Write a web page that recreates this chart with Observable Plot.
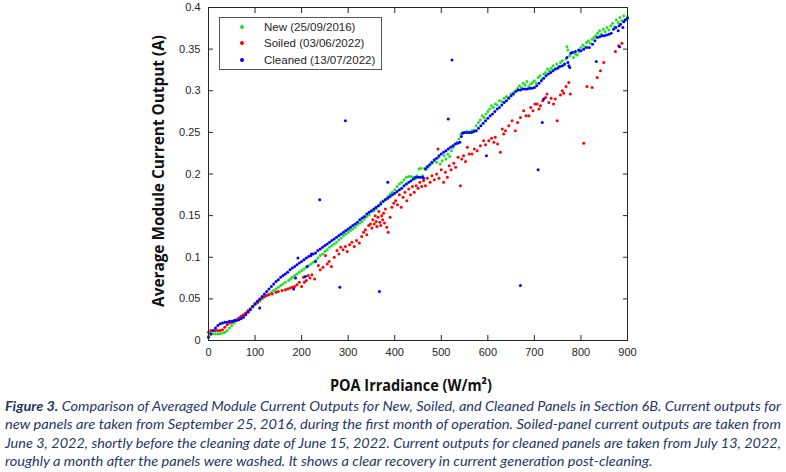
<!DOCTYPE html>
<html><head><meta charset="utf-8">
<script src="https://cdn.jsdelivr.net/npm/d3@7"></script>
<script src="https://cdn.jsdelivr.net/npm/@observablehq/plot@0.6"></script>
<style>
body{margin:0;background:#fff;}
#wrap{position:relative;width:786px;height:472px;overflow:hidden;background:#fff;}
#legend{position:absolute;left:219px;top:17px;width:161px;height:51px;border:1px solid #555;background:#fff;font:11.5px "Liberation Sans",Arial,sans-serif;color:#262626;}
.li{position:absolute;left:0;width:160px;height:16px;line-height:16px;}
.li .dot{position:absolute;left:20px;top:6px;width:4px;height:4px;border-radius:50%;}
.li .t{position:absolute;left:44px;white-space:nowrap;}
#caption{position:absolute;left:5px;top:397px;width:776px;font:italic 13px Lato,sans-serif;color:#1f3864;line-height:18.3px;}
.cl{white-space:nowrap;transform-origin:0 0;display:block;width:max-content;}
</style></head>
<body>
<div id="wrap"><div id="chart"></div><div id="legend"></div><div id="caption"></div></div>
<script>
const seriesNames = ["New (25/09/2016)", "Soiled (03/06/2022)", "Cleaned (13/07/2022)"];
const seriesColors = ["#22e022", "#ff0000", "#0000ff"];
const xTicks = [0, 100, 200, 300, 400, 500, 600, 700, 800, 900];
const yTicks = [0, 0.05, 0.1, 0.15, 0.2, 0.25, 0.3, 0.35, 0.4];
const xTitle = "POA Irradiance (W/m\u00B2)";
const yTitle = "Average Module Current Output (A)";

const newPts = [[0,0.005],[5,0.007],[10,0.008],[15,0.008],[20,0.008],[25,0.008],[30,0.009],[35,0.010],[40,0.012],[45,0.015],[50,0.018],[55,0.021],[60,0.024],[65,0.026],[70,0.028],[75,0.030],[80,0.033],[85,0.035],[90,0.038],[95,0.040],[100,0.043],[105,0.045],[110,0.047],[115,0.050],[120,0.052],[125,0.054],[130,0.056],[135,0.058],[140,0.060],[145,0.062],[150,0.064],[155,0.066],[160,0.068],[165,0.070],[172,0.072],[176,0.074],[180,0.076],[185,0.078],[190,0.080],[195,0.082],[200,0.084],[205,0.086],[210,0.088],[215,0.090],[220,0.092],[225,0.094],[230,0.096],[235,0.099],[240,0.102],[245,0.104],[250,0.107],[255,0.109],[260,0.112],[265,0.114],[270,0.116],[275,0.118],[280,0.121],[285,0.123],[290,0.126],[295,0.128],[300,0.130],[305,0.132],[310,0.134],[315,0.136],[320,0.139],[325,0.141],[330,0.143],[335,0.146],[340,0.149],[345,0.151],[350,0.155],[355,0.156],[360,0.158],[365,0.162],[370,0.166],[375,0.168],[380,0.170],[385,0.173],[390,0.176],[395,0.178],[400,0.181],[405,0.185],[410,0.188],[415,0.190],[420,0.193],[425,0.196],[430,0.197],[435,0.197],[440,0.196],[444,0.194],[448,0.198],[452,0.206],[456,0.207],[460,0.198],[464,0.207],[468,0.206],[472,0.208],[476,0.211],[480,0.213],[485,0.216],[490,0.214],[495,0.220],[498,0.212],[502,0.216],[506,0.222],[510,0.218],[514,0.224],[518,0.221],[522,0.228],[526,0.232],[530,0.236],[534,0.238],[538,0.242],[542,0.248],[546,0.250],[550,0.250],[555,0.251],[560,0.250],[565,0.252],[570,0.253],[575,0.258],[580,0.262],[584,0.265],[588,0.270],[592,0.268],[596,0.272],[600,0.275],[604,0.278],[608,0.282],[612,0.280],[616,0.284],[620,0.283],[625,0.288],[630,0.287],[635,0.291],[640,0.293],[645,0.292],[650,0.296],[655,0.298],[660,0.300],[664,0.303],[668,0.306],[672,0.304],[676,0.309],[680,0.307],[684,0.311],[688,0.305],[692,0.308],[696,0.310],[700,0.312],[704,0.309],[708,0.316],[712,0.318],[716,0.314],[720,0.320],[724,0.322],[728,0.326],[732,0.324],[736,0.327],[740,0.330],[744,0.326],[748,0.332],[752,0.329],[756,0.334],[760,0.336],[764,0.331],[768,0.338],[770,0.353],[772,0.349],[776,0.342],[780,0.346],[784,0.340],[788,0.344],[792,0.343],[796,0.347],[800,0.352],[804,0.355],[808,0.353],[812,0.358],[816,0.360],[820,0.357],[824,0.362],[828,0.364],[832,0.366],[836,0.369],[840,0.372],[844,0.368],[848,0.374],[852,0.371],[856,0.376],[860,0.373],[864,0.378],[868,0.381],[872,0.377],[876,0.385],[880,0.382],[884,0.388],[888,0.384],[892,0.390],[896,0.386],[900,0.389]];

const soiledPts = [[0,0.010],[5,0.012],[10,0.012],[15,0.012],[20,0.012],[25,0.012],[30,0.013],[35,0.016],[40,0.019],[45,0.021],[50,0.022],[55,0.023],[60,0.025],[65,0.027],[70,0.029],[75,0.031],[80,0.033],[85,0.036],[90,0.038],[95,0.041],[100,0.044],[105,0.046],[110,0.049],[115,0.051],[120,0.053],[125,0.054],[130,0.055],[137,0.056],[145,0.058],[150,0.059],[158,0.060],[165,0.061],[170,0.062],[175,0.063],[180,0.064],[185,0.065],[190,0.067],[195,0.070],[200,0.065],[204,0.076],[206,0.070],[210,0.072],[214,0.078],[218,0.075],[222,0.079],[228,0.074],[236,0.090],[240,0.085],[246,0.088],[251,0.102],[255,0.092],[259,0.095],[264,0.089],[270,0.100],[276,0.108],[280,0.104],[284,0.112],[289,0.109],[294,0.113],[298,0.107],[303,0.115],[308,0.118],[313,0.113],[318,0.120],[324,0.117],[329,0.125],[333,0.130],[337,0.133],[340,0.127],[344,0.138],[348,0.140],[351,0.135],[353,0.145],[356,0.140],[358,0.150],[360,0.143],[362,0.137],[364,0.148],[366,0.155],[368,0.142],[370,0.138],[372,0.150],[374,0.145],[376,0.153],[378,0.141],[380,0.158],[383,0.136],[386,0.130],[390,0.148],[394,0.160],[398,0.165],[402,0.168],[406,0.163],[410,0.175],[414,0.160],[418,0.172],[422,0.178],[426,0.168],[430,0.182],[434,0.175],[438,0.185],[442,0.178],[446,0.186],[450,0.183],[454,0.190],[458,0.185],[462,0.192],[466,0.186],[470,0.195],[476,0.190],[480,0.198],[485,0.193],[490,0.200],[493,0.230],[495,0.195],[500,0.205],[505,0.190],[509,0.202],[513,0.196],[517,0.210],[521,0.205],[527,0.213],[531,0.208],[536,0.220],[541,0.186],[544,0.218],[548,0.222],[552,0.215],[556,0.232],[560,0.224],[566,0.224],[571,0.230],[577,0.228],[584,0.234],[591,0.240],[595,0.235],[602,0.240],[608,0.243],[613,0.238],[616,0.244],[621,0.236],[627,0.226],[631,0.254],[634,0.248],[638,0.252],[645,0.258],[652,0.264],[659,0.252],[664,0.262],[670,0.268],[677,0.276],[682,0.270],[688,0.270],[692,0.280],[697,0.276],[701,0.284],[706,0.284],[710,0.278],[713,0.282],[718,0.288],[724,0.292],[727,0.296],[731,0.286],[736,0.291],[741,0.284],[745,0.290],[749,0.264],[756,0.295],[760,0.300],[763,0.297],[768,0.305],[774,0.310],[777,0.296],[806,0.237],[813,0.305],[824,0.304],[835,0.316],[842,0.324],[849,0.334],[874,0.347],[881,0.354],[888,0.357]];

const cleanedPts = [[0,0.004],[5,0.008],[10,0.012],[15,0.015],[20,0.018],[25,0.020],[30,0.021],[35,0.022],[40,0.022],[45,0.023],[50,0.023],[55,0.024],[60,0.024],[65,0.025],[70,0.026],[75,0.028],[80,0.031],[85,0.034],[90,0.037],[95,0.041],[100,0.044],[105,0.047],[110,0.050],[115,0.053],[120,0.056],[125,0.059],[130,0.062],[135,0.065],[140,0.068],[145,0.071],[150,0.073],[155,0.076],[160,0.078],[165,0.080],[170,0.082],[175,0.085],[180,0.087],[185,0.089],[190,0.091],[195,0.093],[200,0.095],[205,0.097],[210,0.099],[215,0.101],[220,0.102],[225,0.104],[230,0.105],[235,0.108],[240,0.110],[245,0.112],[250,0.114],[255,0.116],[260,0.118],[265,0.120],[270,0.122],[275,0.124],[280,0.126],[285,0.128],[290,0.130],[295,0.132],[300,0.134],[305,0.136],[310,0.138],[315,0.140],[320,0.142],[325,0.145],[330,0.147],[335,0.149],[340,0.152],[345,0.154],[350,0.156],[355,0.158],[360,0.160],[365,0.162],[370,0.164],[375,0.167],[380,0.169],[385,0.171],[390,0.173],[395,0.175],[400,0.177],[405,0.179],[410,0.181],[415,0.183],[420,0.186],[425,0.188],[430,0.190],[435,0.192],[440,0.194],[445,0.196],[450,0.196],[455,0.196],[460,0.196],[462,0.195],[466,0.206],[470,0.209],[475,0.211],[480,0.214],[485,0.217],[490,0.219],[495,0.222],[500,0.224],[505,0.226],[510,0.228],[515,0.230],[520,0.232],[525,0.234],[530,0.236],[535,0.237],[540,0.238],[543,0.245],[546,0.249],[550,0.250],[555,0.250],[560,0.250],[565,0.250],[570,0.251],[575,0.252],[580,0.255],[585,0.258],[590,0.261],[595,0.264],[600,0.267],[605,0.270],[610,0.272],[615,0.275],[620,0.278],[625,0.280],[630,0.283],[635,0.286],[640,0.288],[645,0.291],[650,0.294],[655,0.296],[660,0.299],[665,0.301],[670,0.301],[675,0.302],[680,0.302],[685,0.302],[690,0.303],[695,0.303],[700,0.304],[705,0.306],[710,0.309],[715,0.312],[720,0.315],[725,0.318],[730,0.320],[735,0.322],[740,0.324],[745,0.326],[750,0.327],[755,0.329],[760,0.330],[765,0.332],[770,0.340],[772,0.334],[774,0.330],[776,0.328],[778,0.345],[782,0.346],[788,0.347],[795,0.349],[800,0.348],[806,0.350],[812,0.352],[818,0.352],[825,0.356],[830,0.360],[835,0.364],[840,0.365],[845,0.366],[850,0.366],[855,0.367],[860,0.368],[865,0.369],[870,0.374],[875,0.376],[880,0.372],[882,0.378],[885,0.380],[890,0.376],[892,0.383],[895,0.385],[900,0.387],
[110,0.039],[183,0.062],[187,0.075],[192,0.099],[208,0.077],[212,0.089],[221,0.104],[230,0.095],[239,0.169],[282,0.064],[294,0.264],[367,0.059],[385,0.190],[515,0.266],[523,0.337],[597,0.222],[670,0.066],[708,0.205],[717,0.262],[720,0.290],[833,0.335],[883,0.353]];

const seriesData = [newPts, soiledPts, cleanedPts];
const captionLines = [
  "<b>Figure 3.</b> Comparison of Averaged Module Current Outputs for New, Soiled, and Cleaned Panels in Section 6B. Current outputs for",
  "new panels are taken from September 25, 2016, during the first month of operation. Soiled-panel current outputs are taken from",
  "June 3, 2022, shortly before the cleaning date of June 15, 2022. Current outputs for cleaned panels are taken from July 13, 2022,",
  "roughly a month after the panels were washed. It shows a clear recovery in current generation post-cleaning."
];

const axisColor = "#262626";
const chart = Plot.plot({
  width: 786, height: 396,
  marginLeft: 208, marginRight: 159, marginTop: 7, marginBottom: 56,
  x: {domain: [0, 900]},
  y: {domain: [0, 0.4]},
  style: {fontFamily: "'Liberation Sans', Arial, sans-serif", fontSize: "11px", color: axisColor, background: "#fff", overflow: "visible"},
  marks: [
    ...seriesData.map((pts, i) => Plot.dot(pts, {x: d => d[0], y: d => d[1], r: 1.5, fill: seriesColors[i], stroke: null})),
    Plot.frame({stroke: axisColor, strokeWidth: 1}),
    Plot.axisX(xTicks, {tickSize: 0, tickPadding: 8, label: null, tickFormat: d => String(d)}),
    Plot.axisX(xTicks, {tickSize: -5, tickFormat: () => "", label: null}),
    Plot.axisX(xTicks, {anchor: "top", tickSize: -5, tickFormat: () => "", label: null}),
    Plot.axisY(yTicks, {tickSize: 0, tickPadding: 8, label: null, tickFormat: d => String(d)}),
    Plot.axisY(yTicks, {tickSize: -5, tickFormat: () => "", label: null}),
    Plot.axisY(yTicks, {anchor: "right", tickSize: -5, tickFormat: () => "", label: null}),
    Plot.text([xTitle], {text: d => d, frameAnchor: "bottom", textAnchor: "middle", lineAnchor: "middle", dy: 45, dx: -7, fontWeight: "bold", fontSize: 16, fontFamily: "'Open Sans', sans-serif", fill: "#111"}),
    Plot.text([yTitle], {text: d => d, frameAnchor: "left", textAnchor: "middle", lineAnchor: "middle", dx: -50, dy: -3, rotate: -90, fontWeight: "bold", fontSize: 16, fontFamily: "'Open Sans', sans-serif", fill: "#111"})
  ]
});
document.getElementById("chart").appendChild(chart);
chart.querySelectorAll("text").forEach(t => {
  let target = null;
  if (t.textContent === xTitle) target = 162;
  if (t.textContent === yTitle) target = 272;
  if (target) {
    const k = target / t.getComputedTextLength();
    const tr = t.getAttribute("transform") || "";
    t.setAttribute("transform", tr + ` scale(${k},1)`);
  }
});

const legend = document.getElementById("legend");
seriesNames.forEach((n, i) => {
  const it = document.createElement("div");
  it.className = "li";
  it.style.top = [1, 17, 34][i] + "px";
  it.innerHTML = `<div class="dot" style="background:${seriesColors[i]}"></div><span class="t">${n}</span>`;
  legend.appendChild(it);
});

const cap = document.getElementById("caption");
const spans = captionLines.map(l => {
  const s = document.createElement("span");
  s.className = "cl";
  s.innerHTML = l;
  cap.appendChild(s);
  return s;
});
const target = 776;
const scales = spans.slice(0, 3).map(s => target / s.getBoundingClientRect().width);
const avg = scales.reduce((a, b) => a + b, 0) / scales.length;
spans.forEach((s, i) => { s.style.transform = `scaleX(${i < 3 ? scales[i] : avg})`; });
</script>
</body></html>
